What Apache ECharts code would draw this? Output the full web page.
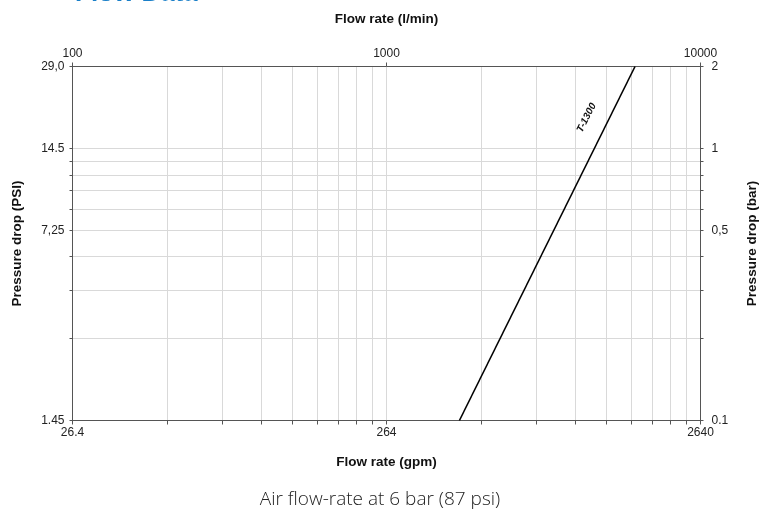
<!DOCTYPE html>
<html>
<head>
<meta charset="utf-8">
<style>
  html, body { margin: 0; padding: 0; background: #fff; }
  #chart { width: 760px; height: 511px; }
</style>
<script src="https://cdn.jsdelivr.net/npm/echarts@6/dist/echarts.min.js"></script>
</head>
<body>
<div id="chart"></div>
<script>
// ---- Data ----
const seriesName = 'T-1300';
const flowLpm = [1707, 6186];          // flow rate (l/min)
const pressureBar = [0.1, 2];          // pressure drop (bar)
const labelPoint = [4339, 1.296];      // where the series label sits (l/min, bar)

const topTickValues = [100, 1000, 10000];
const topTickLabels = ['100', '1000', '10000'];
const bottomLabelValues = [26.4, 264, 2640];
const bottomLabelTexts = ['26.4', '264', '2640'];
const bottomGridValues = [26.4, 52.8, 79.2, 105.6, 132, 158.4, 184.8, 211.2, 237.6,
                          264, 528, 792, 1056, 1320, 1584, 1848, 2112, 2376, 2640];
const leftLabelValues = [1.45, 7.25, 14.5, 29];
const leftLabelTexts = ['1.45', '7,25', '14.5', '29,0'];
const leftTickValues = [1.45, 2.9, 4.35, 5.8, 7.25, 8.7, 10.15, 11.6, 13.05, 14.5, 29];
const rightLabelValues = [0.1, 0.5, 1, 2];
const rightLabelTexts = ['0.1', '0,5', '1', '2'];
const rightGridValues = [0.1, 0.2, 0.3, 0.4, 0.5, 0.6, 0.7, 0.8, 0.9, 1, 2];

const titleText = 'Flow Data';
const captionText = 'Air flow-rate at 6 bar (87 psi)';

function pick(values, texts) {
  return function (v) {
    let best = 0, bd = Infinity;
    values.forEach(function (x, i) {
      const d = Math.abs(Math.log(x) - Math.log(v));
      if (d < bd) { bd = d; best = i; }
    });
    return texts[best];
  };
}

const FONT = 'Liberation Sans, Arial, sans-serif';
const axisLineStyle = { color: '#555', width: 1 };
const labelStyle = { color: '#222', fontSize: 12, fontFamily: FONT };
const nameStyle = { color: '#111', fontSize: 13.5, fontWeight: 'bold', fontFamily: FONT };

const chart = echarts.init(document.getElementById('chart'));
chart.setOption({
  animation: false,
  backgroundColor: '#fff',
  grid: { left: 72.5, right: 59.5, top: 66.5, bottom: 90.5, containLabel: false,
          outerBoundsMode: 'none' },
  graphic: [
    {
      type: 'text', left: 75, top: -19.5,
      style: { text: titleText, fill: '#1a7fc8', font: 'bold 26px ' + FONT }
    },
    {
      type: 'text', left: 'center', top: 490,
      style: { text: captionText, fill: '#222', font: '300 19px "Open Sans", Lato, sans-serif' }
    }
  ],
  xAxis: [
    {
      type: 'log', position: 'bottom', min: 26.4, max: 2640,
      name: 'Flow rate (gpm)', nameLocation: 'middle', nameGap: 35, nameTextStyle: nameStyle,
      axisLine: { show: true, lineStyle: axisLineStyle },
      axisTick: { show: true, length: 4, lineStyle: axisLineStyle, customValues: bottomGridValues },
      axisLabel: { show: true, margin: 6, customValues: bottomLabelValues,
                   formatter: pick(bottomLabelValues, bottomLabelTexts), ...labelStyle },
      splitLine: { show: true, lineStyle: { color: '#d9d9d9', width: 1 } },
      minorTick: { show: false }, minorSplitLine: { show: false }
    },
    {
      type: 'log', position: 'top', min: 100, max: 10000,
      name: 'Flow rate (l/min)', nameLocation: 'middle', nameGap: 40, nameTextStyle: nameStyle,
      axisLine: { show: true, lineStyle: axisLineStyle },
      axisTick: { show: true, length: 4, lineStyle: axisLineStyle, customValues: topTickValues },
      axisLabel: { show: true, margin: 7, customValues: topTickValues,
                   formatter: pick(topTickValues, topTickLabels), ...labelStyle },
      splitLine: { show: false }
    }
  ],
  yAxis: [
    {
      type: 'log', position: 'left', min: 1.45, max: 29,
      name: 'Pressure drop (PSI)', nameLocation: 'middle', nameGap: 48, nameRotate: 90,
      nameTextStyle: nameStyle,
      axisLine: { show: true, lineStyle: axisLineStyle },
      axisTick: { show: true, length: 3, lineStyle: axisLineStyle, customValues: leftTickValues },
      axisLabel: { show: true, margin: 8, customValues: leftLabelValues,
                   formatter: pick(leftLabelValues, leftLabelTexts), ...labelStyle },
      splitLine: { show: false }
    },
    {
      type: 'log', position: 'right', min: 0.1, max: 2,
      name: 'Pressure drop (bar)', nameLocation: 'middle', nameGap: 45, nameRotate: 90,
      nameTextStyle: nameStyle,
      axisLine: { show: true, lineStyle: axisLineStyle },
      axisTick: { show: true, length: 3, lineStyle: axisLineStyle, customValues: rightGridValues },
      axisLabel: { show: true, margin: 11, customValues: rightLabelValues,
                   formatter: pick(rightLabelValues, rightLabelTexts), ...labelStyle },
      splitLine: { show: true, lineStyle: { color: '#d9d9d9', width: 1 } }
    }
  ],
  series: [
    {
      name: seriesName, type: 'line', xAxisIndex: 1, yAxisIndex: 1,
      data: flowLpm.map(function (x, i) { return [x, pressureBar[i]]; }),
      symbol: 'none', lineStyle: { color: '#000', width: 1.6 },
      markPoint: {
        symbol: 'circle', symbolSize: 0,
        data: [{ coord: labelPoint, value: seriesName }],
        label: {
          show: true, position: 'inside', formatter: seriesName, rotate: 63,
          color: '#111', fontSize: 10, fontStyle: 'italic', fontWeight: 'bold',
          fontFamily: 'Liberation Sans Narrow, Liberation Sans, sans-serif'
        }
      }
    }
  ]
});
</script>
</body>
</html>
